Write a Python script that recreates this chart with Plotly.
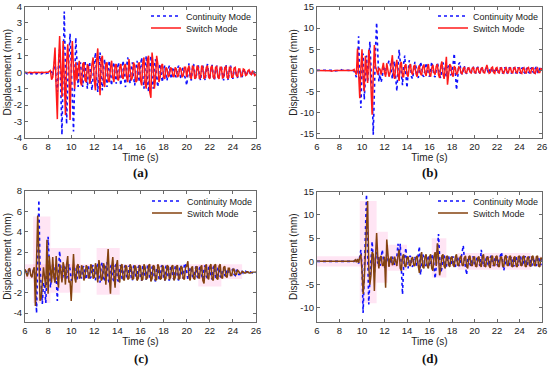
import plotly.graph_objects as go

# ---------------- data (sampled every 0.1 s from 6.0 s to 26.0 s) ----------------
t_start = 6.0
t_step = 0.1

a_cont = [
 0,-0.05,-0.1,-0.05,-0.1,-0.08,-0.1,-0.05,-0.1,-0.08,
 -0.1,-0.05,-0.1,-0.08,-0.1,-0.05,-0.1,-0.05,-0.08,-0.05,
 -0.05,0,-0.05,0.05,-0.2,0.3,0.8,-0.6,-1.2,0.4,
 1.4,-1.0,-3.8,0.4,3.7,0.2,-3.15,-0.6,1.5,2.35,
 0.5,-1.5,-3.6,-0.5,2.1,0.6,-0.9,0.3,0.6,-0.2,
 -0.9,0.2,0.7,-0.3,-1.0,0.4,0.6,-0.5,-1.1,-0.2,
 0.6,1.2,-0.3,-1.2,0.4,1.2,-0.4,-1.1,0.3,0.8,
 -0.2,-0.9,0.2,0.7,-0.3,-0.8,0.3,0.6,-0.2,-0.7,
 0.2,0.6,-0.3,-0.8,0.3,0.7,-0.3,-0.9,0.4,0.9,
 -0.2,-0.7,0.3,0.6,-0.3,-0.8,0.2,0.7,-0.1,-0.6,
 0.4,0.9,-0.3,-1.0,0.3,1.0,-0.4,-1.2,0.3,1.0,
 -0.3,-1.0,0.4,0.8,-0.4,-0.9,0.2,0.5,-0.2,-0.6,
 0.2,0.4,-0.2,-0.5,0.2,0.4,-0.2,-0.4,0.2,0.3,
 -0.2,-0.3,0.2,0.4,-0.1,-0.4,0.1,0.3,-0.2,-0.4,
 -0.8,0.1,0.55,-0.2,-0.5,0.2,0.5,-0.1,-0.4,0.1,
 0.45,-0.2,-0.5,0.1,0.4,-0.2,-0.5,0.2,0.5,-0.1,
 -0.4,0.2,0.45,-0.2,-0.5,0.1,0.4,-0.2,-0.4,0.2,
 0.4,-0.1,-0.5,0.2,0.45,-0.2,-0.5,0.1,0.4,-0.1,
 -0.4,0.1,0.3,-0.2,-0.35,0.1,0.2,-0.1,-0.3,0.1,
 0.2,-0.1,-0.2,0.1,0.15,-0.1,-0.2,0.1,0.1,-0.15,
 -0.1]

a_sw = [
 0,-0.02,0,-0.03,0,-0.02,0,-0.03,0,-0.02,
 0,-0.02,0,-0.03,0,-0.02,0,-0.02,0,0,
 0,0.05,0.1,-0.45,-0.3,0.5,1.5,-1.0,-2.85,0.5,
 2.2,0.3,-1.5,1.9,0.2,-2.6,0.5,1.7,0.2,-2.9,
 0.4,1.9,0.2,-1.0,0.6,-0.5,0.2,0.7,-0.6,-0.8,
 0.5,0.6,-0.5,-0.6,0.5,0.3,-0.7,-0.3,0.5,0.9,
 -0.5,-1.1,0.7,1.45,-0.2,-1.4,0.8,1.0,-0.6,-0.9,
 0.5,0.6,-0.5,-0.6,0.3,0.7,-0.3,-0.6,0.4,0.5,
 -0.4,-0.5,0.3,0.5,-0.3,-0.4,0.4,0.5,-0.3,-0.6,
 0.8,0.3,-0.5,-0.3,0.6,0.4,-0.6,-0.5,0.5,0.6,
 -0.5,-0.8,0.6,0.9,-0.7,-1.0,0.8,1.0,-1.2,-1.55,
 1.2,0.5,-1.0,-0.4,1.0,0.5,-0.6,-0.3,0.4,0.5,
 -0.3,-0.4,0.3,0.2,-0.3,-0.2,0.3,0.2,-0.2,-0.3,
 0.3,0.2,-0.3,-0.2,0.3,0.2,-0.3,-0.2,0.3,0.3,
 -0.3,0.2,0.4,-0.3,-0.4,0.4,0.3,-0.4,-0.3,0.4,
 0.3,-0.4,-0.3,0.4,0.3,-0.4,-0.3,0.3,0.4,-0.3,
 -0.4,0.3,0.4,-0.3,-0.4,0.3,0.35,-0.3,-0.4,0.3,
 0.3,-0.35,-0.3,0.3,0.35,-0.3,-0.4,0.3,0.3,-0.3,
 -0.3,0.25,0.3,-0.2,-0.3,0.2,0.2,-0.25,-0.2,0.2,
 0.15,-0.2,-0.15,0.1,0.15,-0.1,-0.15,0.1,-0.05,-0.2,
 -0.1]

b_cont = [
 0,0.05,0,0.05,0,0.05,0,0.05,0,0.05,
 0,0.05,0,0.05,0,0,-0.1,-0.1,0,0,
 0.1,0.2,0.1,0,0,0.05,0,0.05,0,0,
 0,0.05,0,-0.2,-0.8,-1.6,0.5,8.1,-2.0,-8.9,
 1.0,4.0,-6.9,0.5,3.5,-2.8,1.5,6.8,0.5,-5.0,
 -15.2,-3.0,5.0,11.3,2.0,-2.6,-1.0,-2.8,-1.5,0.5,
 1.0,-1.0,0.5,1.5,2.3,1.8,-1.0,-2.0,1.5,2.2,
 -2.0,-4.9,0.5,4.9,2.0,-2.0,-3.5,1.5,3.5,-1.0,
 -4.1,-0.5,2.4,1.5,-1.5,-2.0,0.5,2.0,0.8,-1.2,
 -1.8,0.5,2.0,1.0,-1.2,-1.5,0.5,1.8,1.0,-1.0,
 -1.5,0.5,2.0,0.5,-1.2,-1.6,0.6,1.9,0.5,-1.3,
 -1.8,0.3,1.9,0.5,-1.0,-1.5,0.5,1.2,0.3,-1.0,
 -0.8,2.0,4.0,-0.5,-4.6,-2.0,1.5,1.9,-0.5,-1.0,
 0.5,1.0,-0.5,-0.8,0.3,0.9,-0.4,-0.8,0.4,0.8,
 -0.5,-0.6,0.5,0.8,-0.4,-0.7,0.3,0.7,-0.4,-0.6,
 0.4,0.7,-0.3,-0.8,0.5,0.6,-0.5,-0.7,0.5,0.6,
 -0.5,-0.7,0.4,0.7,-0.5,-0.6,0.3,0.7,-0.4,-0.6,
 0.5,0.6,-0.4,-0.7,0.4,0.6,-0.5,-0.6,0.4,0.7,
 -0.4,-0.7,0.5,0.6,-0.4,-0.7,0.3,0.6,-0.5,-0.6,
 0.4,0.7,-0.4,-0.6,0.5,0.8,-0.5,-0.6,0.4,0.9,
 0.3]

b_sw = [
 0,0,0,0,0,0,0,0,0,0,
 0,0,-0.1,-0.2,-0.1,0,0,0,0,0,
 0.1,0.1,0,0,0,0,0,0,0,0,
 0,0,0,0.2,-0.5,-1.0,5.2,-1.0,-6.6,0.5,
 5.0,-2.0,-5.0,3.4,0.5,-3.0,4.9,2.0,-4.0,-10.5,
 -1.0,6.0,1.0,-0.5,-1.0,0.5,0.3,-1.0,0.8,1.8,
 -0.5,-1.5,1.7,0.5,-1.5,-0.5,1.5,3.6,-1.0,-2.0,
 1.0,2.5,-1.0,-2.5,1.5,2.0,-1.5,-1.5,1.0,1.5,
 -1.0,-1.5,0.8,1.5,-0.5,-1.0,1.0,1.2,-0.8,-1.5,
 0.5,1.2,-0.8,-1.2,0.8,1.4,-0.6,-1.3,0.6,1.5,
 -0.8,-1.5,0.6,1.3,-0.5,-1.0,1.0,1.5,-1.0,-1.8,
 1.0,2.1,-0.8,-2.0,0.5,3.2,-3.4,-1.0,1.5,1.0,
 -1.0,-1.5,1.0,0.5,-1.0,-0.5,0.8,0.6,-0.6,-0.8,
 0.5,0.7,-0.5,-0.6,0.5,0.6,-0.4,-0.6,0.5,0.7,
 -0.5,-0.6,0.5,0.6,-0.4,-0.7,0.5,0.6,-0.5,-0.6,
 0.6,1.3,0.2,-0.7,-0.5,0.6,0.8,-0.5,-0.7,0.5,
 0.7,-0.4,-0.6,0.5,0.6,-0.5,-0.7,0.4,0.8,-0.4,
 -0.7,0.5,0.6,-0.5,-0.6,0.5,0.7,-0.4,-0.6,0.5,
 0.6,-0.5,-0.7,0.4,0.6,-0.5,-0.6,0.5,0.7,-0.4,
 -0.6,0.5,0.6,-0.5,-0.7,0.4,0.6,-0.5,-0.5,0.4,
 0.2]

c_cont = [
 0.2,0.1,-0.3,0.2,0.3,-0.2,-0.4,0.1,0.3,-0.5,
 -4.0,1.0,7.1,0.5,-2.0,-3.1,-1.0,-1.5,-3.0,0.5,
 3.5,1.0,-1.5,-0.5,0.8,0.5,-1.0,-0.5,-2.8,0.3,
 2.1,0.5,-0.8,-0.3,0.6,0.4,-0.6,-0.2,0.8,0.3,
 -0.8,-0.6,0.6,0.5,-0.5,-0.7,0.4,0.6,-0.4,-0.6,
 0.5,0.6,-0.4,-0.7,0.4,0.6,-0.6,-0.5,0.5,0.7,
 -0.5,-0.8,0.6,0.9,-0.6,-1.0,0.7,1.0,-0.5,-0.9,
 0.6,1.0,-0.7,-1.0,0.5,0.8,-0.6,-0.9,0.6,0.8,
 -0.7,-0.9,0.6,0.7,-0.6,-0.8,0.5,0.7,-0.6,-0.7,
 0.6,0.7,-0.5,-0.8,0.6,0.7,-0.6,-0.7,0.5,0.7,
 -0.6,-0.8,0.6,0.7,-0.5,-0.7,0.6,0.6,-0.7,-0.8,
 0.5,0.7,-0.6,-0.9,0.5,0.7,-0.6,-0.8,0.6,0.7,
 -0.5,-0.8,0.6,0.7,-0.6,-0.8,0.5,0.7,-0.5,-0.7,
 0.6,0.7,-0.5,-0.8,0.5,0.7,-0.4,-0.6,0.8,0.9,
 -0.2,-0.7,-0.3,0.4,0.5,-0.4,-0.5,0.3,0.6,-0.4,
 -0.6,0.4,0.6,-0.3,-0.7,0.4,0.7,-0.4,-0.6,0.5,
 0.7,-0.4,-0.7,0.5,0.6,-0.5,-0.6,0.4,0.5,-0.4,
 -0.5,0.3,0.4,-0.3,-0.4,0.3,0.3,-0.3,-0.3,0.2,
 0.3,-0.2,-0.3,0.2,0.2,-0.2,-0.2,0.1,0.1,-0.1,
 -0.1,0.1,0.05,-0.1,-0.05,0.05,0.0,-0.05,0.0,0.0,
 0.0]

c_sw = [
 0.3,-0.2,-0.4,0.3,0.4,-0.3,-0.5,0.2,0.5,-3.3,
 0.5,5.6,2.0,-2.8,-2.5,-1.0,0.5,-0.5,-1.5,3.2,
 -2.1,1.6,0.5,-1.0,1.5,-0.5,-1.0,1.6,-0.3,-1.5,
 0.8,0.2,-1.0,1.0,0.5,-1.2,0.8,1.6,-1.0,-0.8,
 -2.8,0.5,1.8,-0.5,-1.0,0.6,0.8,-0.6,-0.5,0.7,
 0.4,-0.8,-0.3,0.7,0.5,-0.6,-0.4,0.8,0.5,-0.6,
 -0.5,0.9,0.4,-1.0,1.2,0.5,-0.8,-0.6,0.9,0.5,
 -1.2,0.6,2.3,-0.5,-2.1,0.5,1.5,-0.3,-1.5,0.6,
 1.2,-0.5,-1.0,0.6,0.8,-0.6,-0.8,0.7,0.6,-0.7,
 -0.6,0.8,0.5,-0.7,-0.6,0.7,0.5,-0.8,-0.6,0.7,
 0.6,-0.8,-0.7,0.8,0.5,-0.7,-0.5,0.7,0.8,-0.9,
 -0.6,0.7,0.6,-0.8,-0.7,0.8,0.5,-0.7,-0.6,0.7,
 0.5,-0.8,-0.6,0.7,0.6,-0.7,-0.5,0.6,0.7,-0.8,
 -0.5,0.6,0.7,-0.7,-0.6,0.6,0.5,-0.6,-0.7,0.5,
 0.6,1.1,-0.5,-0.8,0.4,0.6,-0.6,-0.7,0.5,0.6,
 -0.5,-0.6,0.5,0.7,-0.8,-1.1,0.5,0.8,-0.5,-0.7,
 0.6,0.8,-0.6,-0.8,0.7,0.8,-0.6,-0.7,0.6,0.8,
 -0.5,-0.6,0.5,0.6,-0.4,-0.5,0.4,0.4,-0.3,-0.3,
 0.3,0.3,-0.2,-0.2,0.2,0.1,-0.1,-0.1,0.1,0.05,
 -0.05,-0.05,0.05,0.05,-0.05,-0.05,0.0,0.0,0.0,0.0,
 0.0]

d_cont = [
 0,0,0,0,0,0,0,0,0,0,
 0,0,0,0,0,0,0,0,0,0,
 0,0,0,0,0,0,0,0,0,0,
 0,0,0,0,0.2,-0.3,0.4,-0.5,1.0,2.5,
 -1.0,-11.1,-3.0,7.0,14.4,2.0,-9.3,-4.0,1.0,4.3,
 0.5,-2.5,1.0,2.0,-0.5,1.0,-1.0,0.5,2.5,0.5,
 -1.5,-0.5,1.5,0.5,-1.0,0.8,-0.6,1.0,0.3,-0.8,
 0.5,1.0,3.8,1.0,3.8,-2.0,-7.1,-1.0,1.5,2.9,
 -0.5,-1.5,0.8,1.2,-0.8,-1.2,0.6,1.0,-0.5,-1.0,
 1.5,3.2,-2.9,-1.0,1.5,0.8,-1.0,-0.8,1.2,1.0,
 -1.0,-0.8,1.0,1.5,-1.5,-3.7,-1.0,2.0,5.9,1.0,
 -2.5,-1.5,1.0,1.5,-0.8,-1.2,0.8,1.2,-0.6,-1.0,
 0.8,1.0,-0.8,-1.2,0.6,1.0,-0.8,-1.0,0.5,1.2,
 3.4,0.5,-1.0,-2.9,0.5,1.0,-0.6,-1.0,0.8,1.0,
 -0.8,-1.2,0.6,1.0,-0.5,-1.0,2.5,0.8,-1.2,-0.8,
 0.7,1.2,-0.6,-1.0,0.8,1.2,-0.7,-1.0,0.5,1.0,
 -0.6,-1.0,0.8,1.2,2.0,-0.5,-2.0,-0.8,0.6,1.0,
 -0.5,-1.0,0.6,1.0,-0.6,-1.1,0.5,1.0,-0.6,-0.9,
 0.5,1.0,-0.5,-1.0,0.6,1.1,-0.5,-0.9,0.6,1.0,
 -0.6,-1.0,0.5,0.9,-0.6,-1.0,0.7,1.0,-0.5,-0.8,
 0.5]

d_sw = [
 0,0,0,0,0,0,0,0,0,0,
 0,0,0,0,0,0,0,0,0,0,
 0,0,0,0,0,0,0,0,0,0,
 0,0,0,0,0.3,-0.2,0.5,-0.3,0.8,1.5,
 -2.0,-7.0,-4.0,3.0,8.0,13.0,-1.0,-5.0,-3.0,2.0,
 1.5,-6.4,1.0,6.1,1.0,-1.5,0.8,1.2,-0.8,-1.0,
 1.0,-5.7,4.7,0.5,-1.2,0.5,1.0,-0.8,-0.5,1.0,
 -0.5,-1.0,1.2,2.5,-1.5,-2.0,1.0,1.5,-1.0,-1.2,
 0.8,1.0,-0.8,-1.0,0.6,0.9,-0.8,-1.0,0.8,1.2,
 -1.0,-2.5,1.0,2.0,-1.2,-1.5,1.0,1.5,-1.0,-1.5,
 1.0,1.5,-1.5,-2.0,1.0,2.0,-1.0,3.9,1.0,-3.0,
 -1.5,1.2,1.5,-1.0,-1.5,1.0,1.2,-0.8,-1.2,0.8,
 1.0,-0.8,-1.2,1.0,1.5,-0.8,-1.0,0.8,1.2,-0.8,
 -1.0,0.8,1.2,-1.0,-1.5,1.0,1.2,-0.8,-1.0,0.8,
 1.0,-1.0,-1.2,0.8,1.0,-0.8,-1.2,1.0,1.5,-1.0,
 -1.2,0.8,1.0,-1.0,-1.4,1.0,1.2,-0.8,-1.0,1.0,
 1.2,-1.0,-1.2,0.8,1.0,-1.0,-1.2,1.0,1.3,-0.8,
 -1.0,1.0,1.2,-1.0,-1.2,0.8,1.0,-1.0,-1.2,1.0,
 1.2,-0.8,-1.0,1.0,1.2,-1.0,-1.2,0.8,1.0,-0.9,
 -1.1,1.0,1.2,-0.8,-1.0,1.0,1.2,-1.0,-1.2,0.8,
 0.5]

# faint pink envelope bands in panels (c) and (d): start, end, low, high
c_band_start = [6.0, 6.7, 8.2, 12.2, 21.0]
c_band_end   = [24.8, 8.2, 10.8, 14.2, 23.0]
c_band_low   = [-0.65, -3.0, -2.0, -2.2, -1.4]
c_band_high  = [0.8, 5.5, 2.4, 2.4, 0.75]

d_band_start = [6.0, 9.8, 11.3, 12.3, 16.2, 18.5]
d_band_end   = [26.0, 11.3, 12.3, 14.0, 17.5, 25.0]
d_band_low   = [-1.1, -9.0, -4.6, -2.0, -3.5, -1.8]
d_band_high  = [1.1, 13.0, 6.4, 3.6, 5.0, 1.8]

x_ticks = [6, 8, 10, 12, 14, 16, 18, 20, 22, 24, 26]
a_yticks = [-4, -3, -2, -1, 0, 1, 2, 3, 4]
b_yticks = [-15, -10, -5, 0, 5, 10, 15]
c_yticks = [-4, -2, 0, 2, 4, 6, 8]
d_yticks = [-10, -5, 0, 5, 10, 15]

captions = ["(a)", "(b)", "(c)", "(d)"]
series_names = ["Continuity Mode", "Switch Mode"]

# ---------------- figure ----------------
W, H = 550, 367
n = len(a_cont)
time = [round(t_start + i * t_step, 1) for i in range(n)]

def px(v):
    return v / W

def py(v):
    return 1 - v / H

panels = [
    dict(cont=a_cont, sw=a_sw, yr=[-4, 4], yt=a_yticks, dom_x=[25, 256], dom_y=[6.5, 138],
         sw_col="#ff1a1a", cap_y=172, leg_x=188, leg_y=[16, 28]),
    dict(cont=b_cont, sw=b_sw, yr=[-16, 15], yt=b_yticks, dom_x=[317, 542], dom_y=[7, 138],
         sw_col="#ff1a1a", cap_y=172, leg_x=475, leg_y=[16, 28]),
    dict(cont=c_cont, sw=c_sw, yr=[-4.85, 8], yt=c_yticks, dom_x=[25, 256], dom_y=[191, 321.7],
         sw_col="#84420f", cap_y=358, leg_x=189, leg_y=[201, 213]),
    dict(cont=d_cont, sw=d_sw, yr=[-13, 15], yt=d_yticks, dom_x=[317, 542], dom_y=[191.7, 321.7],
         sw_col="#84420f", cap_y=358, leg_x=475, leg_y=[201, 213]),
]

fig = go.Figure()
font_family = "Liberation Sans, Arial, sans-serif"
axis_col = "#6a6a6a"
layout = {}
shapes = []
annotations = []
TEXT_OFFSET = 42  # px from legend left edge to its text

for i, p in enumerate(panels):
    k = "" if i == 0 else str(i + 1)
    xa, ya = "x" + k, "y" + k
    legs = ["legend" if i == 0 else "legend" + str(2 * i + 1), "legend" + str(2 * i + 2)]
    styles = [dict(color="#1010ff", width=1.6, dash="dot"), dict(color=p["sw_col"], width=1.5)]
    for j, (vals, name) in enumerate([(p["cont"], series_names[0]), (p["sw"], series_names[1])]):
        fig.add_trace(go.Scatter(x=time, y=vals, mode="lines", name=name, line=styles[j],
                                 xaxis=xa, yaxis=ya, legend=legs[j]))
        layout[legs[j]] = dict(
            x=px(p["leg_x"] - TEXT_OFFSET), xanchor="left", y=py(p["leg_y"][j]), yanchor="middle",
            bgcolor="rgba(255,255,255,0)", borderwidth=0,
            font=dict(size=9, color="#222", family=font_family),
            tracegroupgap=0, itemwidth=30)
    layout["xaxis" + k] = dict(
        domain=[px(p["dom_x"][0]), px(p["dom_x"][1])], anchor=ya, range=[6, 26],
        tickvals=x_ticks, ticktext=[str(v) for v in x_ticks], automargin=False,
        ticks="inside", ticklen=3, tickcolor=axis_col, showline=True, linecolor=axis_col,
        linewidth=1, mirror="ticks", showgrid=False, zeroline=False,
        tickfont=dict(size=9.5, color="#222", family=font_family),
        title=dict(text="Time (s)", font=dict(size=10, color="#222", family=font_family), standoff=0))
    layout["yaxis" + k] = dict(
        domain=[py(p["dom_y"][1]), py(p["dom_y"][0])], anchor=xa, range=p["yr"],
        tickvals=p["yt"], ticktext=[str(v) for v in p["yt"]], automargin=False,
        ticks="inside", ticklen=3, tickcolor=axis_col, showline=True, linecolor=axis_col,
        linewidth=1, mirror="ticks", showgrid=False, zeroline=False,
        tickfont=dict(size=9.5, color="#222", family=font_family),
        title=dict(text="Displacement (mm)", font=dict(size=10, color="#222", family=font_family), standoff=0))
    annotations.append(dict(
        text="<b>" + captions[i] + "</b>", xref="paper", yref="paper",
        x=px((p["dom_x"][0] + p["dom_x"][1]) / 2), y=py(p["cap_y"]),
        showarrow=False, xanchor="center", yanchor="middle",
        font=dict(size=13, color="#111", family="Liberation Serif, serif")))

for k, (bs, be, bl, bh) in [("3", (c_band_start, c_band_end, c_band_low, c_band_high)),
                            ("4", (d_band_start, d_band_end, d_band_low, d_band_high))]:
    for s0, s1, lo, hi in zip(bs, be, bl, bh):
        shapes.append(dict(type="rect", xref="x" + k, yref="y" + k, x0=s0, x1=s1, y0=lo, y1=hi,
                           fillcolor="rgba(255,0,150,0.10)", line=dict(width=0), layer="below"))

fig.update_layout(
    width=W, height=H, margin=dict(l=0, r=0, t=0, b=0, autoexpand=False),
    paper_bgcolor="white", plot_bgcolor="white",
    showlegend=True, shapes=shapes, annotations=annotations,
    font=dict(family=font_family),
    **layout)

fig.write_html("out.html", config={"displayModeBar": False},
               post_script="document.body.style.margin='0px';document.body.style.overflow='hidden';")
